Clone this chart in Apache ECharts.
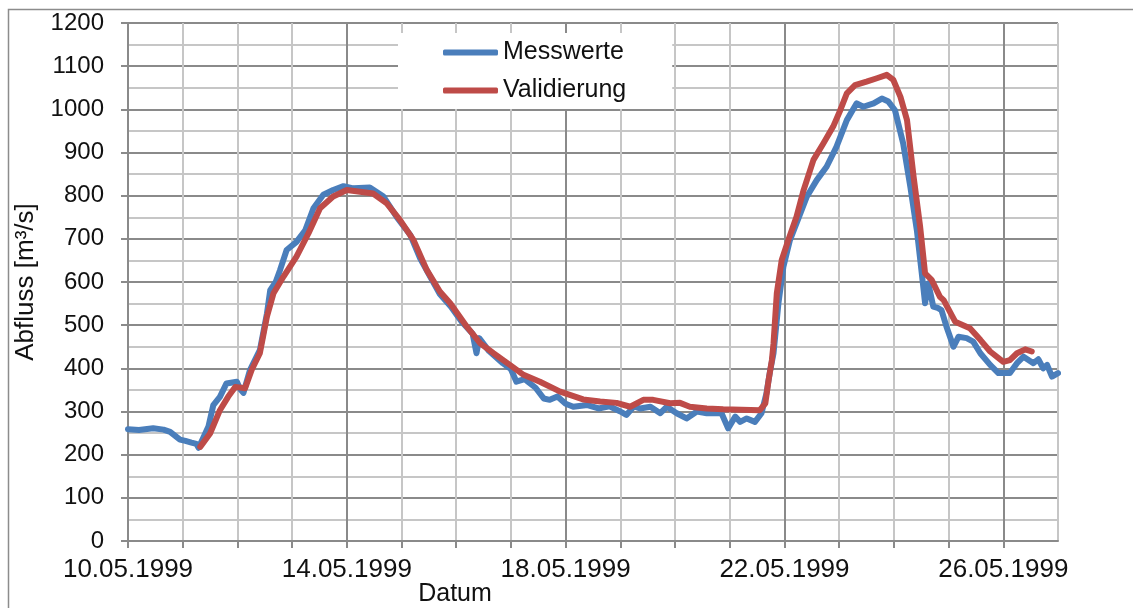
<!DOCTYPE html>
<html>
<head>
<meta charset="utf-8">
<title>Abfluss</title>
<script src="https://cdn.jsdelivr.net/npm/echarts@6/dist/echarts.min.js"></script>
<style>
  body { margin: 0; background: #fff; }
  #main { width: 1133px; height: 608px; }
</style>
</head>
<body>
<div id="main"></div>
<script>
// x = Tage seit 10.05.1999, y = Abfluss [m3/s]
var messwerte = [
  [0,259],[0.2,257],[0.46,261],[0.65,258],[0.77,253],[0.95,235],[1.05,232],[1.16,228],[1.25,225],[1.29,216],
  [1.38,240],[1.47,265],[1.56,315],[1.68,334],[1.80,365],[1.99,369],[2.05,352],[2.11,343],[2.23,396],[2.41,442],
  [2.54,527],[2.60,581],[2.70,600],[2.78,628],[2.90,674],[3.08,693],[3.24,720],[3.39,771],[3.57,802],[3.75,813],
  [3.94,822],[4.12,817],[4.42,819],[4.67,798],[4.91,751],[5.16,709],[5.34,655],[5.5,618],[5.7,572],[5.9,543],
  [6.1,508],[6.3,480],[6.37,435],[6.42,470],[6.6,440],[6.85,412],[7.0,398],[7.1,369],[7.25,375],[7.45,355],
  [7.6,330],[7.71,327],[7.85,335],[8.0,318],[8.14,311],[8.4,315],[8.6,307],[8.8,312],[9.0,300],[9.11,292],
  [9.25,312],[9.36,307],[9.55,311],[9.73,296],[9.85,311],[10.03,296],[10.21,284],[10.40,300],[10.58,296],[10.85,296],
  [10.97,261],[11.10,288],[11.19,276],[11.31,284],[11.46,276],[11.58,296],[11.67,342],[11.74,396],[11.80,435],[11.89,551],
  [11.98,635],[12.10,697],[12.29,759],[12.41,798],[12.59,836],[12.77,867],[12.95,913],[13.14,975],[13.32,1014],[13.44,1006],
  [13.63,1014],[13.78,1025],[13.90,1018],[14.02,998],[14.17,921],[14.30,821],[14.42,720],[14.51,620],[14.57,551],[14.63,597],
  [14.72,543],[14.80,540],[14.87,535],[14.96,497],[15.09,450],[15.18,473],[15.33,470],[15.45,462],[15.58,435],[15.76,408],
  [15.91,389],[16.12,389],[16.25,412],[16.37,427],[16.55,412],[16.64,421],[16.73,400],[16.80,408],[16.89,381],[17.0,389]
];
var validierung = [
  [1.32,218],[1.50,249],[1.68,303],[1.83,334],[1.96,357],[2.14,354],[2.26,396],[2.41,435],[2.54,520],[2.66,574],
  [2.84,612],[3.08,659],[3.30,713],[3.51,771],[3.75,798],[4.00,813],[4.24,809],[4.48,805],[4.73,782],[4.97,744],
  [5.22,697],[5.46,628],[5.70,578],[5.89,551],[6.19,497],[6.44,458],[6.68,435],[6.98,408],[7.23,385],[7.53,369],
  [7.90,346],[8.32,328],[8.63,323],[8.93,320],[9.18,311],[9.42,327],[9.60,327],[9.91,319],[10.09,320],[10.27,311],
  [10.58,307],[10.88,305],[11.55,303],[11.65,319],[11.71,373],[11.77,419],[11.80,458],[11.86,574],[11.95,651],[12.07,697],
  [12.22,751],[12.35,813],[12.53,883],[12.71,921],[12.89,960],[13.02,998],[13.14,1037],[13.29,1056],[13.50,1064],[13.69,1072],
  [13.87,1080],[13.99,1068],[14.12,1029],[14.24,975],[14.36,844],[14.48,728],[14.57,620],[14.69,605],[14.84,566],[14.91,558],
  [15.12,508],[15.39,493],[15.58,466],[15.76,439],[16.00,415],[16.12,419],[16.25,435],[16.40,444],[16.52,439]
];
var startDatum = Date.UTC(1999, 4, 10);
var labelAlle = 4; // Tage zwischen Datumsbeschriftungen

function datumText(v) {
  var d = new Date(startDatum + v * 86400000);
  var t = d.getUTCDate(), m = d.getUTCMonth() + 1;
  return (t < 10 ? '0' + t : t) + '.' + (m < 10 ? '0' + m : m) + '.' + d.getUTCFullYear();
}

var font = 'Liberation Sans, Arial, sans-serif';
var dunkel = '#8a8a8a', hell = '#c6c6c6';

var myChart = echarts.init(document.getElementById('main'));
myChart.setOption({
  animation: false,
  grid: { left: 128, right: 75, top: 23, bottom: 67 },
  legend: {
    orient: 'vertical',
    left: 398, top: 33,
    padding: [7, 46, 6, 45],
    itemGap: 13,
    itemWidth: 55, itemHeight: 6,
    icon: 'roundRect',
    backgroundColor: '#fff',
    textStyle: { fontFamily: font, fontSize: 25, color: '#111' },
    data: ['Messwerte', 'Validierung']
  },
  xAxis: {
    type: 'value', min: 0, max: 17, interval: 1,
    axisLine: { lineStyle: { color: dunkel, width: 2 } },
    axisTick: { show: true, length: 7, lineStyle: { color: dunkel, width: 2 } },
    axisLabel: {
      margin: 16, fontFamily: font, fontSize: 26, color: '#111',
      showMaxLabel: false,
      formatter: function (v) { return v % labelAlle === 0 ? datumText(v) : ''; }
    },
    splitLine: { show: true, lineStyle: { color: [dunkel, hell, hell, hell], width: 2 } }
  },
  yAxis: {
    type: 'value', min: 0, max: 1200, interval: 100,
    axisLine: { show: true, lineStyle: { color: dunkel, width: 2 } },
    axisTick: { show: true, length: 7, lineStyle: { color: dunkel, width: 2 } },
    axisLabel: { margin: 24, fontFamily: font, fontSize: 24, color: '#111',
      formatter: function (v) { return String(v); } },
    splitLine: { show: true, lineStyle: { color: dunkel, width: 2 } },
    minorTick: { show: false, splitNumber: 2 },
    minorSplitLine: { show: true, lineStyle: { color: hell, width: 2 } }
  },
  graphic: [
    { type: 'rect', left: 6, top: 7, shape: { width: 1200, height: 700 },
      style: { fill: 'none', stroke: '#8c8c8c', lineWidth: 1.5 }, silent: true, z: -1 },
    { type: 'text', x: 26, y: 282, rotation: Math.PI / 2,
      style: { text: 'Abfluss [m³/s]', font: '26px ' + font, fill: '#111', align: 'center', verticalAlign: 'middle' } },
    { type: 'text', x: 455, y: 594,
      style: { text: 'Datum', font: '25px ' + font, fill: '#111', align: 'center', verticalAlign: 'middle' } }
  ],
  series: [
    { name: 'Messwerte', type: 'line', data: messwerte, showSymbol: false, symbol: 'none',
      lineStyle: { color: '#4a7ebb', width: 6, cap: 'round', join: 'round' }, itemStyle: { color: '#4a7ebb' } },
    { name: 'Validierung', type: 'line', data: validierung, showSymbol: false, symbol: 'none',
      lineStyle: { color: '#be4b48', width: 6, cap: 'round', join: 'round' }, itemStyle: { color: '#be4b48' } }
  ]
});
</script>
</body>
</html>
